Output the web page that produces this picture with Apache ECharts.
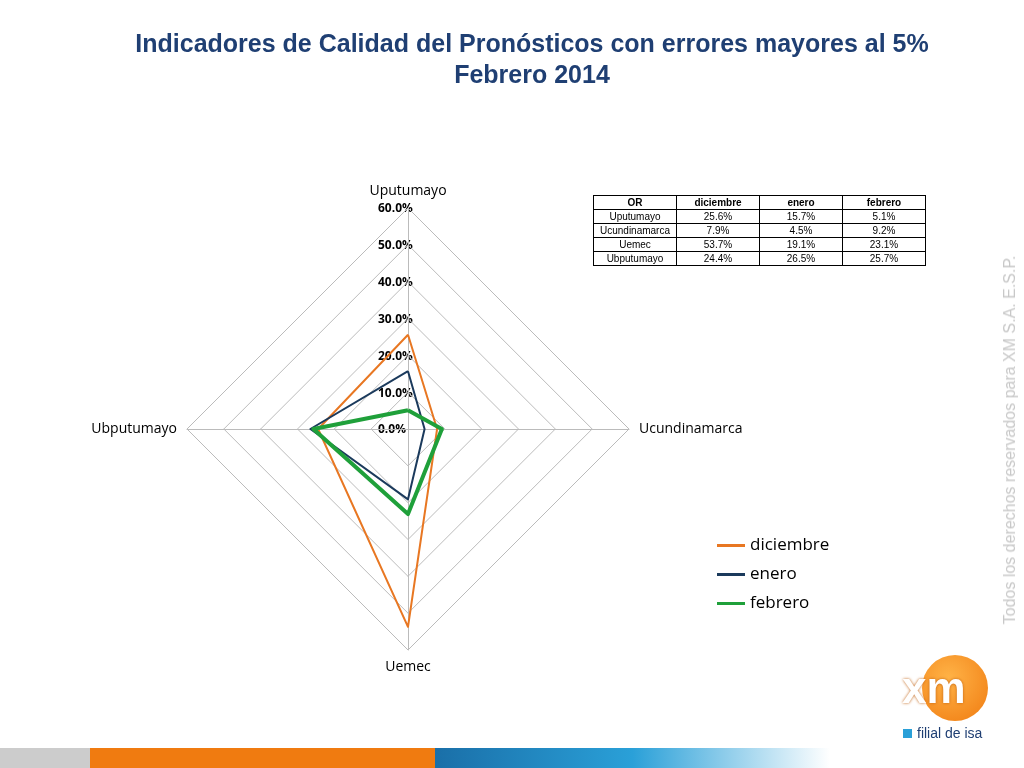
<!DOCTYPE html>
<html><head><meta charset="utf-8">
<script src="https://cdn.jsdelivr.net/npm/echarts@6/dist/echarts.min.js"></script>
<style>
body{margin:0;width:1024px;height:768px;overflow:hidden;background:#fff;font-family:"Liberation Sans",Arial,sans-serif;position:relative}
#c{position:absolute;left:0;top:0;width:1024px;height:768px}
#title{position:absolute;left:0;width:1064px;top:28px;text-align:center;color:#1F3F73;font-weight:bold;font-size:25px;line-height:31px}
table{position:absolute;left:593px;top:195px;border-collapse:collapse;font-size:10px;font-family:"Liberation Sans",Arial}
td,th{border:1px solid #000;padding:0 2px;height:13px;text-align:center;font-weight:normal}
th{width:78px;font-weight:bold}
#wm{position:absolute;left:1010px;top:440px;transform:translate(-50%,-50%) rotate(-90deg);white-space:nowrap;color:#c8c8c8;font-size:16px}
#logo{position:absolute;left:900px;top:655px;width:88px;height:68px}
</style></head><body>
<div id="c"></div>
<div id="title">Indicadores de Calidad del Pronósticos con errores mayores al 5%<br>Febrero 2014</div>
<table id="tbl"></table>
<div id="wm">Todos los derechos reservados para XM S.A. E.S.P.</div>
<div id="logo">
<div style="position:absolute;left:22px;top:0;width:66px;height:66px;border-radius:50%;background:radial-gradient(circle at 40% 35%,#ffb347,#f07b10)"></div>
<div style="position:absolute;left:2px;top:8px;font:bold 44px 'Liberation Sans';color:#fff;text-shadow:0 0 3px #c06010">xm</div>
<div style="position:absolute;left:3px;top:74px;width:9px;height:9px;background:#2aa0d8"></div>
<div style="position:absolute;left:17px;top:70px;font:14px 'Liberation Sans';color:#1F3F73;white-space:nowrap">filial de isa</div>
</div>
<div style="position:absolute;left:0;top:748px;width:90px;height:20px;background:#ccc"></div>
<div style="position:absolute;left:90px;top:748px;width:345px;height:20px;background:#f07b10"></div>
<div style="position:absolute;left:435px;top:748px;width:395px;height:20px;background:linear-gradient(90deg,#1a6fa8,#2aa0d8,#fff)"></div>
<script>
const categories=["Uputumayo","Ucundinamarca","Uemec","Ubputumayo"];
const diciembre=[25.6,7.9,53.7,24.4];
const enero=[15.7,4.5,19.1,26.5];
const febrero=[5.1,9.2,23.1,25.7];
const ticks=[0,10,20,30,40,50,60];
let h='<tr><th>OR</th><th>diciembre</th><th>enero</th><th>febrero</th></tr>';
categories.forEach((c,i)=>{h+=`<tr><td>${c}</td><td>${diciembre[i].toFixed(1)}%</td><td>${enero[i].toFixed(1)}%</td><td>${febrero[i].toFixed(1)}%</td></tr>`;});
document.getElementById('tbl').innerHTML=h;
const order=[0,3,2,1];
const pick=a=>order.map(i=>a[i]);
const cx=408,cy=429,R=221;
const chart=echarts.init(document.getElementById('c'));
chart.setOption({
 animation:false,
 legend:{orient:'vertical',left:712,top:532,itemGap:12,itemWidth:28,itemHeight:3,
   textStyle:{fontSize:17,fontFamily:'Open Sans',color:'#000'},
   data:['diciembre','enero','febrero'],icon:'rect'},
 radar:{center:[cx,cy],radius:R,shape:'polygon',splitNumber:6,startAngle:90,
   indicator:order.map(i=>({name:categories[i],min:0,max:60})),
   axisName:{color:'#000',fontSize:14,fontFamily:'Open Sans'},nameGap:10,
   splitLine:{lineStyle:{color:'#bbb'}},axisLine:{lineStyle:{color:'#bbb'}},splitArea:{show:false}},
 graphic:ticks.map(t=>({type:'text',left:cx-30,top:cy-t/60*R-5,
   style:{text:t.toFixed(1)+'%',font:'bold 12px "Open Sans"',fill:'#000'}})),
 series:[{type:'radar',symbol:'none',data:[
   {name:'diciembre',value:pick(diciembre),lineStyle:{color:'#E87722',width:2},itemStyle:{color:'#E87722'}},
   {name:'enero',value:pick(enero),lineStyle:{color:'#1B3A5C',width:2},itemStyle:{color:'#1B3A5C'}},
   {name:'febrero',value:pick(febrero),lineStyle:{color:'#1FA03A',width:4},itemStyle:{color:'#1FA03A'}}]}]
});
</script></body></html>
